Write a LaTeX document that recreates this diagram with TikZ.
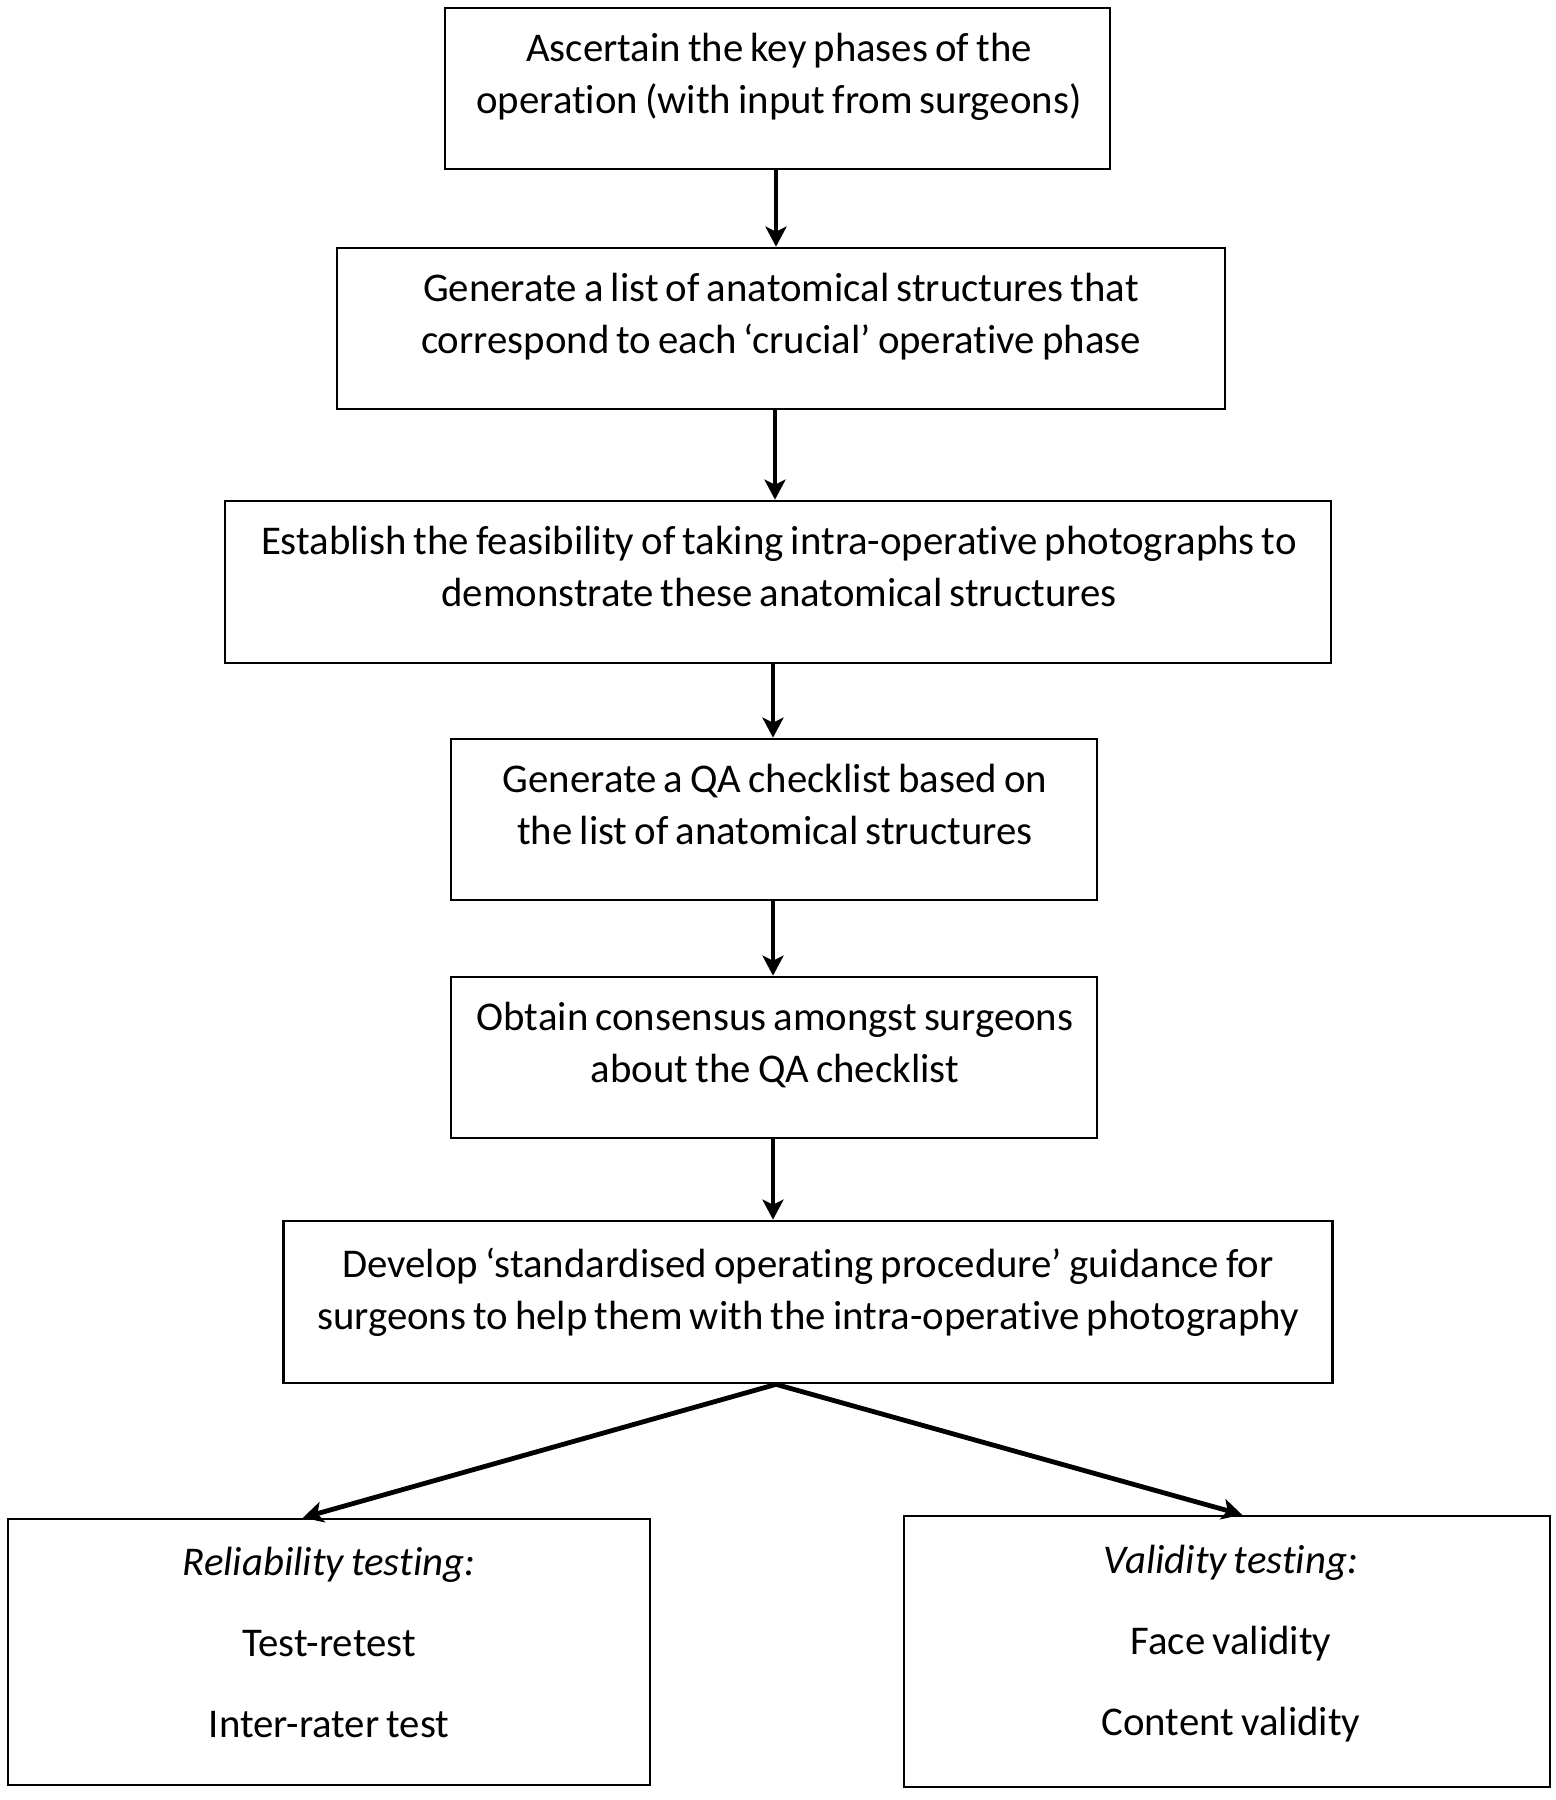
\documentclass[tikz,border=0pt]{standalone}
\usepackage{fontspec}
\setmainfont{Carlito}[Ligatures=NoCommon, WordSpace=0.77]
\usetikzlibrary{arrows.meta}
\tikzset{
  box/.style={draw=black, line width=1.35pt, inner sep=0pt, fill=white},
  txt/.style={anchor=base, inner sep=0pt, font=\fontsize{20.4}{26}\selectfont},
  txtb/.style={anchor=base, inner sep=0pt, font=\fontsize{20.4}{40.5}\selectfont},
  arr/.style={line width=2.4pt, -{Stealth[length=10pt,width=10.5pt,inset=2.5pt]}}
}
\begin{document}
\begin{tikzpicture}[x=0.5pt,y=-0.5pt]
\useasboundingbox[fill=white] (0,0) rectangle (1555,1800);
% boxes
\node[box, minimum width=332.5pt, minimum height=80.5pt] (b1) at (777.5,88.5) {};
\node[box, minimum width=444pt, minimum height=80.5pt] (b2) at (781,328.5) {};
\node[box, minimum width=553pt, minimum height=81pt] (b3) at (778,582) {};
\node[box, minimum width=323pt, minimum height=80.5pt] (b4) at (774,819.5) {};
\node[box, minimum width=323pt, minimum height=80.5pt] (b5) at (774,1057.5) {};
\node[box, minimum width=524.5pt, minimum height=81pt] (b6) at (808,1302) {};
\node[box, minimum width=321pt, minimum height=133pt] (b7) at (329,1652) {};
\node[box, minimum width=323pt, minimum height=135.5pt] (b8) at (1227,1651.5) {};
% texts
\node[txt] (t1) at (779,61) {\begin{tabular}[t]{@{}c@{}}Ascertain the key phases of the\\operation (with input from surgeons)\end{tabular}};
\node[txt] (t2) at (781,301) {\begin{tabular}[t]{@{}c@{}}Generate a list of anatomical structures that\\correspond to each ‘crucial’ operative phase\end{tabular}};
\node[txt] (t3) at (779,554) {\begin{tabular}[t]{@{}c@{}}Establish the feasibility of taking intra-operative photographs to\\demonstrate these anatomical structures\end{tabular}};
\node[txt] (t4) at (775,792) {\begin{tabular}[t]{@{}c@{}}Generate a QA checklist based on\\the list of anatomical structures\end{tabular}};
\node[txt] (t5) at (775,1030) {\begin{tabular}[t]{@{}c@{}}Obtain consensus amongst surgeons\\about the QA checklist\end{tabular}};
\node[txt] (t6) at (808,1277) {\begin{tabular}[t]{@{}c@{}}Develop ‘standardised operating procedure’ guidance for\\surgeons to help them with the intra-operative photography\end{tabular}};
\node[txtb] (t7) at (329,1575) {\begin{tabular}[t]{@{}c@{}}\textit{Reliability testing:}\\Test-retest\\Inter-rater test\end{tabular}};
\node[txtb] (t8) at (1231,1573) {\begin{tabular}[t]{@{}c@{}}\textit{Validity testing:}\\Face validity\\Content validity\end{tabular}};
% arrow columns
\coordinate (a1) at (776,0);
\coordinate (a2) at (775,0);
\coordinate (a3) at (773,0);
\coordinate (apex) at (776,0);
\coordinate (lt) at (303,0);
\coordinate (rt) at (1242,0);
\draw[arr] (b1.south -| a1) -- (b2.north -| a1);
\draw[arr] (b2.south -| a2) -- (b3.north -| a2);
\draw[arr] (b3.south -| a3) -- (b4.north -| a3);
\draw[arr] (b4.south -| a3) -- (b5.north -| a3);
\draw[arr] (b5.south -| a3) -- (b6.north -| a3);
\draw[arr] (b6.south -| apex) -- (b7.north -| lt);
\draw[arr] (b6.south -| apex) -- (b8.north -| rt);
\end{tikzpicture}
\end{document}
